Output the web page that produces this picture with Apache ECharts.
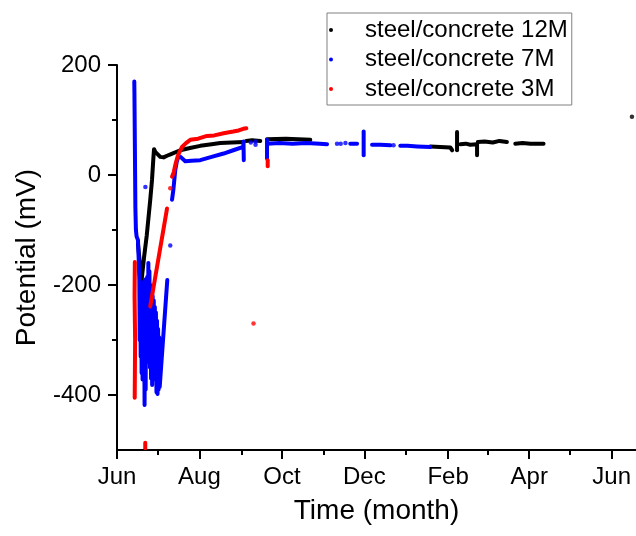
<!DOCTYPE html>
<html>
<head>
<meta charset="utf-8">
<title>Potential vs time</title>
<script src="https://cdn.jsdelivr.net/npm/echarts@6/dist/echarts.min.js"></script>
<style>
  html, body { margin: 0; padding: 0; background: #fff; }
  #chart { width: 636px; height: 536px; }
</style>
</head>
<body>
<div id="chart"></div>
<script>
// x values are days counted from 1 June; y values are potentials in mV.
const monthTicks = [0, 61, 122, 183, 245, 305, 366];
const monthLabels = ['Jun', 'Aug', 'Oct', 'Dec', 'Feb', 'Apr', 'Jun'];
const monthMinorTicks = [30, 92, 153, 214, 274, 335];
const potentialTicks = [-400, -200, 0, 200];
const potentialMinorTicks = [-300, -100, 100];

const names = ['steel/concrete 12M', 'steel/concrete 7M', 'steel/concrete 3M'];

// steel/concrete 12M: continuous runs of readings
const steel12M = [
  [[15.5, -125], [16.5, -150], [17.5, -185], [18.2, -191], [20, -150], [22, -110], [24.6, -45],
   [25.9, -9], [26.9, 30], [27.4, 47], [28.3, 42], [30, 38], [32, 33], [34.5, 32], [37, 35],
   [40, 38], [46.8, 45], [54, 49], [61.6, 53], [70, 56], [76.4, 58], [85, 59], [93.6, 60]],
  [[95.5, 62], [100, 63], [106, 62]],
  [[111, 65], [125, 66], [143, 64]],
  [[231.8, 52], [239, 51], [246.6, 50], [248, 45]],
  [[251.6, 78], [251.6, 45]],
  [[254, 56], [258, 57], [261.4, 55], [266.4, 56], [266.4, 36]],
  [[267, 60], [272, 61], [278, 59], [283, 62], [288.5, 60]],
  [[294.7, 57], [300, 58], [306, 57], [315.6, 57]]
];
const steel12MPoints = [[381, 106]];

// steel/concrete 7M (the first run swings rapidly during the first weeks)
const steel7M = [
  [[12.8, 170], [12.9, 150], [13.0, 120], [13.2, 60], [13.4, 0], [13.6, -60], [14.0, -100],
   [14.5, -112], [15.5, -118], [16.0, -150], [16.5, -190],
   [16.8, -300], [17.2, -195], [17.5, -330], [17.9, -200], [18.2, -360], [18.6, -195],
   [18.9, -372], [19.3, -200], [19.6, -360], [20.0, -205], [20.4, -418], [20.8, -190],
   [21.2, -390], [21.6, -195], [22.0, -340], [22.4, -185], [22.8, -330], [23.2, -160],
   [23.6, -335], [24.0, -175], [24.4, -350], [24.8, -200], [25.2, -370], [25.6, -210],
   [26.0, -382], [26.4, -220], [26.8, -372], [27.2, -228], [27.6, -365], [28.0, -240],
   [28.4, -372], [28.8, -250], [29.2, -395], [29.6, -265], [30.0, -398], [30.4, -280],
   [30.8, -390], [31.2, -295], [31.6, -385], [37.2, -191]],
  [[40.7, -45], [41.7, -27], [43.1, 9], [44.3, 25], [45.4, 33], [47, 33], [50.5, 25], [55, 26],
   [61.6, 27], [70, 33], [78.9, 39], [86, 45], [93.4, 51], [93.6, 61], [93.8, 27]],
  [[111, 64], [111, 30]],
  [[111.2, 57], [120, 58], [130, 57], [140, 58], [150, 57], [155.4, 56]],
  [[172.6, 57], [177.6, 57]],
  [[182.5, 79], [182.5, 36]],
  [[188.7, 55], [195, 55], [202.2, 54]],
  [[209.6, 53], [215, 53], [222, 52], [231.8, 51]]
];
const steel7MPoints = [[21.0, -22], [39.4, -128], [99, 59], [102.5, 61], [102.5, 55],
  [162.8, 57], [165.5, 57], [169, 58], [204.6, 54]];

// steel/concrete 3M
const steel3M = [
  [[13.2, -158], [13.0, -220], [13.4, -300], [13.1, -405]],
  [[20.9, -487], [20.9, -497]],
  [[24.6, -239], [37.0, -61]],
  [[40.7, -3], [42, 5], [43.1, 18], [45, 35], [48.1, 51], [51, 58], [54.2, 64], [60, 66],
   [66.6, 71], [72, 72], [78.9, 76], [86, 79], [90, 81], [93.4, 84], [95.7, 85]],
  [[111.5, 27], [111.5, 16]]
];
const steel3MPoints = [[39.4, -24], [101, -270]];

const colors = ['#000000', '#0000ff', '#ff0000'];
const FONT = 'Liberation Sans, Arial, sans-serif';

function traces(name, color, segments, points, z) {
  const out = segments.map(seg => ({
    type: 'line', name, data: seg, color,
    symbol: 'none', showSymbol: false, silent: true, z,
    lineStyle: { width: 4, color, cap: 'round', join: 'round' }
  }));
  out.push({
    type: 'scatter', name, data: points, color, symbolSize: 4.5, silent: true, z,
    itemStyle: { color }
  });
  return out;
}

const series = [].concat(
  traces(names[0], colors[0], steel12M, steel12MPoints, 2),
  traces(names[1], colors[1], steel7M, steel7MPoints, 3),
  traces(names[2], colors[2], steel3M, steel3MPoints, 4)
);

const axisLineStyle = { color: '#000', width: 2 };

const option = {
  animation: false,
  backgroundColor: '#ffffff',
  textStyle: { fontFamily: FONT },
  grid: { left: 117, top: 65, right: 0, bottom: 86, containLabel: false },
  legend: {
    orient: 'vertical',
    left: 327, top: 13,
    padding: [5, 4, 4, 2],
    itemWidth: 58, itemHeight: 4, itemGap: 5.5,
    borderColor: '#808080', borderWidth: 1,
    selectedMode: false,
    textStyle: { fontSize: 24, fontFamily: FONT, color: '#000' },
    data: names.map(n => ({ name: n, icon: 'circle' }))
  },
  xAxis: [
    {
      type: 'value', min: 0, max: 384, position: 'bottom',
      name: 'Time (month)', nameLocation: 'middle', nameGap: 47,
      nameTextStyle: { fontSize: 28, color: '#000', fontFamily: FONT },
      axisLine: { show: true, onZero: false, lineStyle: axisLineStyle },
      axisTick: { show: true, customValues: monthTicks, length: 9, lineStyle: axisLineStyle },
      axisLabel: {
        customValues: monthTicks, margin: 15, fontSize: 24, color: '#000', fontFamily: FONT,
        formatter: v => monthLabels[monthTicks.indexOf(v)] || ''
      },
      splitLine: { show: false }
    },
    {
      type: 'value', min: 0, max: 384, position: 'bottom',
      axisLine: { show: false, onZero: false },
      axisTick: { show: true, customValues: monthMinorTicks, length: 5, lineStyle: axisLineStyle },
      axisLabel: { show: false },
      splitLine: { show: false }
    }
  ],
  yAxis: [
    {
      type: 'value', min: -500, max: 200, position: 'left',
      name: 'Potential (mV)', nameLocation: 'middle', nameGap: 76,
      nameTextStyle: { fontSize: 28, color: '#000', fontFamily: FONT },
      axisLine: { show: true, onZero: false, lineStyle: axisLineStyle },
      axisTick: { show: true, customValues: potentialTicks, length: 9, lineStyle: axisLineStyle },
      axisLabel: { customValues: potentialTicks, margin: 16, fontSize: 24, color: '#000', fontFamily: FONT },
      splitLine: { show: false }
    },
    {
      type: 'value', min: -500, max: 200, position: 'left',
      axisLine: { show: false, onZero: false },
      axisTick: { show: true, customValues: potentialMinorTicks, length: 5, lineStyle: axisLineStyle },
      axisLabel: { show: false },
      splitLine: { show: false }
    }
  ],
  series
};

const chart = echarts.init(document.getElementById('chart'), null, { renderer: 'canvas' });
chart.setOption(option);
</script>
</body>
</html>
